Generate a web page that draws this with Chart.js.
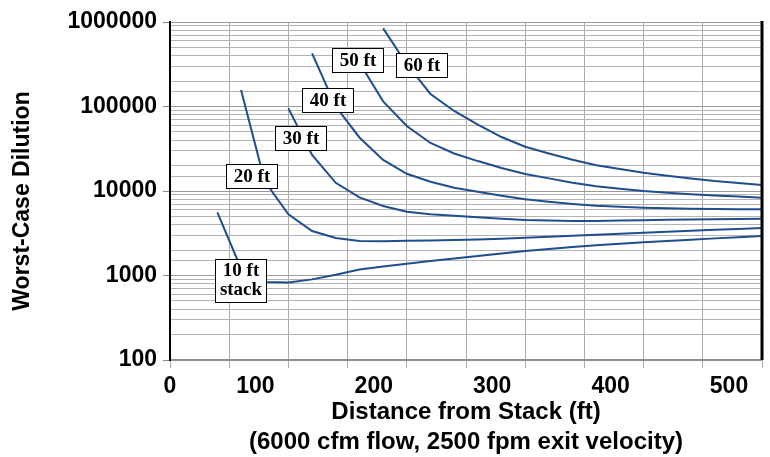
<!DOCTYPE html>
<html>
<head>
<title>Worst-Case Dilution</title>
<script src="https://cdn.jsdelivr.net/npm/chart.js"></script>
<style>
  body { margin: 0; background: #fff; }
  #wrap { width: 770px; height: 457px; }
</style>
</head>
<body>
<div id="wrap"><canvas id="dilutionChart" width="770" height="457"></canvas></div>
<script>
// distance from stack (ft), one point every 20 ft
const distance = [40, 60, 80, 100, 120, 140, 160, 180, 200, 220, 240, 260, 280, 300, 320, 340, 360, 380, 400, 420, 440, 460, 480, 500];

// worst-case dilution for each stack height (null = curve not started yet)
const stack10 = [5600, 1210, 840, 825, 900, 1020, 1180, 1280, 1380, 1480, 1590, 1700, 1820, 1950, 2060, 2170, 2280, 2380, 2470, 2560, 2650, 2750, 2840, 2930];
const stack20 = [null, 157000, 13000, 5300, 3360, 2780, 2560, 2540, 2580, 2600, 2630, 2670, 2730, 2800, 2870, 2950, 3030, 3110, 3200, 3290, 3380, 3470, 3560, 3640];
const stack30 = [null, null, null, 95000, 26700, 12500, 8400, 6640, 5690, 5300, 5080, 4880, 4700, 4540, 4480, 4430, 4420, 4470, 4520, 4570, 4600, 4640, 4670, 4700];
const stack40 = [null, null, null, null, 426000, 100000, 43000, 23300, 16000, 12880, 10900, 9800, 8800, 7980, 7450, 7030, 6700, 6500, 6340, 6250, 6160, 6120, 6090, 6070];
const stack50 = [null, null, null, null, null, null, 330000, 115000, 58800, 37000, 27800, 22600, 18700, 15900, 14100, 12500, 11400, 10650, 10000, 9550, 9150, 8850, 8580, 8330];
const stack60 = [null, null, null, null, null, null, null, 840000, 316000, 140600, 88500, 61200, 43500, 33400, 27800, 23400, 20200, 18250, 16470, 15200, 14050, 13100, 12400, 11800];

const xTicks = [0, 100, 200, 300, 400, 500];
const yTicks = [100, 1000, 10000, 100000, 1000000];

// boxed curve labels, placed in data units
const tagText = [['10 ft', 'stack'], ['20 ft'], ['30 ft'], ['40 ft'], ['50 ft'], ['60 ft']];
const tagX = [59.5, 68.8, 109.4, 132.2, 158, 212.4];
const tagY = [873, 15250, 42400, 121000, 355000, 314000];

const series = [stack10, stack20, stack30, stack40, stack50, stack60];
const names = ['10 ft', '20 ft', '30 ft', '40 ft', '50 ft', '60 ft'];

const sansBold = '"Liberation Sans", Arial, sans-serif';

const extras = {
    id: 'extras',
    afterDatasetsDraw(chart) {
        const { ctx, scales: { x, y } } = chart;
        ctx.save();
        ctx.font = 'bold 19px "Liberation Serif", "Times New Roman", serif';
        ctx.textAlign = 'center';
        ctx.textBaseline = 'middle';
        tagText.forEach((lines, i) => {
            const cx = Math.round(x.getPixelForValue(tagX[i]));
            const cy = Math.round(y.getPixelForValue(tagY[i]));
            const w = 51;
            const h = lines.length * 19 + 5;
            const left = Math.round(cx - w / 2);
            const top = Math.round(cy - h / 2);
            ctx.fillStyle = '#fff';
            ctx.fillRect(left, top, w, h);
            ctx.strokeStyle = '#000';
            ctx.lineWidth = 1;
            ctx.strokeRect(left + 0.5, top + 0.5, w, h);
            ctx.fillStyle = '#000';
            lines.forEach((t, j) => {
                ctx.fillText(t, cx + 1, cy - (lines.length - 1) * 9.5 + j * 19 + 1);
            });
        });
        ctx.restore();
    },
    afterDraw(chart) {
        const { ctx, chartArea, scales: { x } } = chart;
        ctx.save();
        // heavy right frame line
        ctx.strokeStyle = '#000';
        ctx.lineWidth = 3;
        ctx.beginPath();
        ctx.moveTo(chartArea.right, chartArea.top - 1);
        ctx.lineTo(chartArea.right, chartArea.bottom);
        ctx.stroke();

        // x tick labels (sit left of their ticks in the original)
        ctx.fillStyle = '#000';
        ctx.font = 'bold 23px ' + sansBold;
        ctx.textAlign = 'center';
        ctx.textBaseline = 'middle';
        xTicks.forEach(v => {
            const px = x.getPixelForValue(v) + (v === 0 ? 0 : -33);
            ctx.fillText(String(v), px, 387);
        });

        // y axis title
        ctx.font = 'bold 23px ' + sansBold;
        ctx.translate(23, 201);
        ctx.rotate(-Math.PI / 2);
        ctx.fillText('Worst-Case Dilution', 0, 0);
        ctx.restore();
    }
};

const ctx = document.getElementById('dilutionChart').getContext('2d');
new Chart(ctx, {
    type: 'line',
    data: {
        datasets: series.map((s, i) => ({
            label: names[i],
            data: distance.map((d, j) => ({ x: d, y: s[j] })),
            borderColor: '#1f4e8f',
            borderWidth: 2,
            pointRadius: 0,
            tension: 0,
            fill: false
        }))
    },
    options: {
        responsive: false,
        animation: false,
        layout: { padding: { top: 22, right: 8, left: 0, bottom: 0 } },
        plugins: {
            legend: { display: false },
            tooltip: { enabled: false }
        },
        scales: {
            x: {
                type: 'linear',
                min: 0,
                max: 500,
                ticks: { display: false, stepSize: 50, autoSkip: false },
                grid: { color: '#ababab', lineWidth: 1, tickLength: 8, tickColor: '#ababab' },
                border: { color: '#8a8a8a', width: 1.5 },
                title: {
                    display: true,
                    text: ['Distance from Stack (ft)', '(6000 cfm flow, 2500 fpm exit velocity)'],
                    color: '#000',
                    font: { family: sansBold, size: 24, weight: 'bold', lineHeight: 1.25 },
                    padding: { top: 0, bottom: 0 }
                },
                afterFit(scale) { scale.height = 97; }
            },
            y: {
                type: 'logarithmic',
                min: 100,
                max: 1000000,
                ticks: {
                    autoSkip: false,
                    padding: 6,
                    color: '#000',
                    font: { family: sansBold, size: 23, weight: 'bold' },
                    callback: v => yTicks.includes(v) ? String(v) : ''
                },
                grid: {
                    color: c => (c.tick && yTicks.includes(c.tick.value)) ? '#9a9a9a' : '#b4b4b4',
                    lineWidth: 1,
                    tickLength: 7,
                    tickColor: c => (c.tick && yTicks.includes(c.tick.value)) ? '#8a8a8a' : 'rgba(0,0,0,0)'
                },
                border: { color: '#000', width: 2 },
                afterFit(scale) { scale.width = 170; }
            }
        }
    },
    plugins: [extras]
});
</script>
</body>
</html>
